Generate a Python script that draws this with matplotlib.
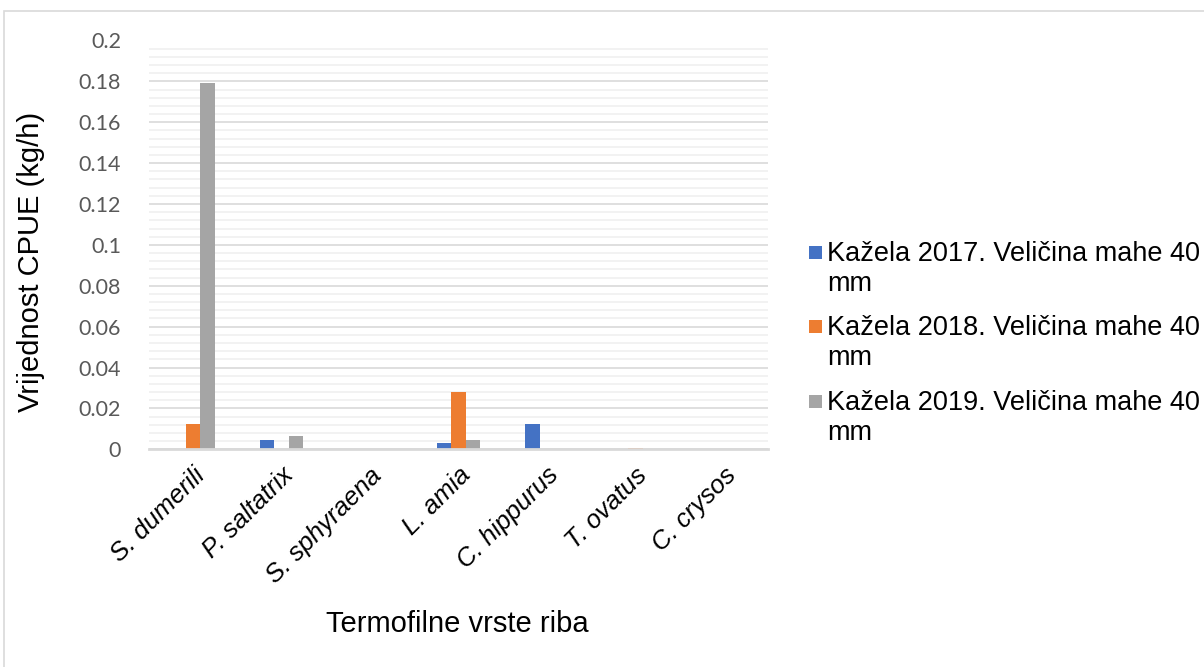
import matplotlib
matplotlib.use("Agg")
import matplotlib.pyplot as plt
import numpy as np
from matplotlib.patches import Rectangle
from matplotlib.ticker import MultipleLocator


species = ["S. dumerili", "P. saltatrix", "S. sphyraena", "L. amia",
           "C. hippurus", "T. ovatus", "C. crysos"]
series_names = [
    "Kažela 2017. Veličina mahe 40\nmm",
    "Kažela 2018. Veličina mahe 40\nmm",
    "Kažela 2019. Veličina mahe 40\nmm",
]
cpue_2017 = [0.0, 0.0047, 0.0, 0.0030, 0.0122, 0.0, 0.0]
cpue_2018 = [0.0122, 0.0, 0.0, 0.0279, 0.0, 0.0006, 0.0]
cpue_2019 = [0.179, 0.0063, 0.0, 0.0044, 0.0, 0.0, 0.0]
y_ticks = [0, 0.02, 0.04, 0.06, 0.08, 0.1, 0.12, 0.14, 0.16, 0.18, 0.2]
y_tick_labels = ["0", "0.02", "0.04", "0.06", "0.08", "0.1", "0.12",
                 "0.14", "0.16", "0.18", "0.2"]

colors = ["#4472C4", "#ED7D31", "#A5A5A5"]

W, H = 1204, 667
fig = plt.figure(figsize=(W / 100, H / 100), dpi=100)

# chart frame
fig.patches.append(Rectangle((3.5 / W, -0.05), 1.2, 1 - 11 / H + 0.05,
                             transform=fig.transFigure, fill=False,
                             edgecolor="#d9d9d9", linewidth=1.2))

left, right = 148.7 / W, 768 / W
bottom, top = 1 - 449.3 / H, 1 - 40.5 / H
ax = fig.add_axes([left, bottom, right - left, top - bottom])

x = np.arange(len(species))
width = 0.164
for i, vals in enumerate([cpue_2017, cpue_2018, cpue_2019]):
    ax.bar(x + (i - 1) * width, vals, width, color=colors[i], zorder=3)

ax.set_xlim(-0.5, len(species) - 0.5)
ax.set_ylim(0, 0.2)
ax.set_yticks(y_ticks)
ax.set_yticklabels(y_tick_labels, fontfamily="Lato", fontsize=15.5, color="#595959")
ax.yaxis.set_minor_locator(MultipleLocator(0.004))
ax.grid(axis="y", which="major", color="#d9d9d9", linewidth=1.2, zorder=0)
ax.grid(axis="y", which="minor", color="#f0f0f0", linewidth=1.2, zorder=0)
ax.tick_params(axis="y", which="both", length=0, pad=20)
ax.tick_params(axis="x", length=0, pad=10)

ax.set_xticks(x)
ax.set_xticklabels(species, rotation=45, ha="right", va="top",
                   rotation_mode="anchor", fontfamily="Liberation Sans",
                   fontstyle="italic", fontsize=18.5)

for s in ["top", "right", "left"]:
    ax.spines[s].set_visible(False)
ax.spines["bottom"].set_color("#d9d9d9")
ax.spines["bottom"].set_linewidth(2)
ax.spines["bottom"].set_zorder(4)

fig.text(31 / W, 1 - 262 / H, "Vrijednost CPUE (kg/h)", rotation=90,
         ha="center", va="center", fontfamily="Liberation Sans", fontsize=21)
fig.text(457 / W, 1 - 624 / H, "Termofilne vrste riba", ha="center",
         va="center", fontfamily="Liberation Sans", fontsize=21)

# legend
leg_top = [252, 326, 401]
for i, name in enumerate(series_names):
    yc = 1 - leg_top[i] / H
    fig.patches.append(Rectangle((809 / W, yc - 7 / H), 13 / W, 13 / H,
                                 transform=fig.transFigure,
                                 facecolor=colors[i], edgecolor="none"))
    fig.text(827 / W, yc + 11 / H, name, ha="left", va="top",
             fontfamily="Liberation Sans", fontsize=19.5, linespacing=1.2)

fig.savefig("out.png", dpi=100)
